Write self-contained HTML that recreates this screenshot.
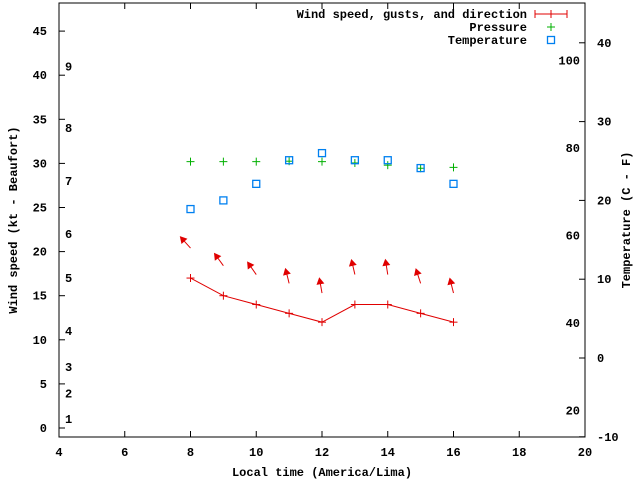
<!DOCTYPE html>
<html><head><meta charset="utf-8"><style>
body{margin:0;background:#fff}
svg{display:block;font-family:"Liberation Mono",monospace;font-size:12px;font-weight:bold}
</style></head><body>
<svg id="c" width="640" height="480"></svg>
<script>
const hours=[8,9,10,11,12,13,14,15,16];
const windSpeed=[17,15,14,13,12,14,14,13,12];
const arrowBase=[20.4,18.4,17.4,16.4,15.3,17.4,17.4,16.4,15.3];
const windDir=[-42,-36,-35,-14,-10,-13,-9,-18,-14];
const pressure=[30.2,30.2,30.2,30.25,30.2,30.05,29.8,29.45,29.55];
const tempC=[18.9,20,22.1,25.1,26,25.1,25.1,24.1,22.1];
const xTicks=[4,6,8,10,12,14,16,18,20];
const yTicks=[0,5,10,15,20,25,30,35,40,45];
const y2Ticks=[-10,0,10,20,30,40];
const fLabels=[20,40,60,80,100];
const bft=[[1,1],[2,3.9],[3,6.9],[4,11],[5,17],[6,22],[7,28],[8,34],[9,41]];
const L=59,R=585,T=3,B=437;
const X=v=>L+(v-4)*(R-L)/16;
const Y=v=>428-v*8.82;
const Y2=v=>358-v*7.88;
const YF=f=>Y2((f-32)*5/9);
const s=document.getElementById('c');const NS='http://www.w3.org/2000/svg';
function mk(t,a,p){const e=document.createElementNS(NS,t);for(const k in a)e.setAttribute(k,a[k]);(p||s).appendChild(e);return e;}
function tx(x,y,str,anchor){const e=mk('text',{x:x,y:y,'text-anchor':anchor||'start'});e.textContent=str;return e;}
const fr=mk('rect',{x:L,y:T,width:R-L,height:B-T,fill:'none',stroke:'#000'});

xTicks.forEach(v=>{mk('line',{x1:X(v),x2:X(v),y1:B,y2:B-6,stroke:'#000'});mk('line',{x1:X(v),x2:X(v),y1:T,y2:T+6,stroke:'#000'});
 const t=tx(X(v),B+19,v,'middle');});
yTicks.forEach(v=>{mk('line',{x1:L,x2:L+6,y1:Y(v),y2:Y(v),stroke:'#000'});
 const t=tx(L-12,Y(v)+4,v,'end');});
y2Ticks.forEach(v=>{mk('line',{x1:R,x2:R-6,y1:Y2(v),y2:Y2(v),stroke:'#000'});
 const t=tx(R+12,Y2(v)+4,v,'start');});
fLabels.forEach(v=>{const t=tx(580,YF(v)+4,v,'end');});
bft.forEach(b=>{const t=tx(65,Y(b[1])+4,b[0]);});
let t=tx(322,476,'Local time (America/Lima)','middle');
t=tx(0,0,'Wind speed (kt - Beaufort)','middle');t.setAttribute('transform','translate(17,220) rotate(-90)');

t=tx(0,0,'Temperature (C - F)','middle');t.setAttribute('transform','translate(630,220) rotate(-90)');

// wind line
const ln=mk('polyline',{points:hours.map((h,i)=>X(h)+','+Y(windSpeed[i])).join(' '),fill:'none',stroke:'#e00000'});

function plus(x,y,c,n){const g=mk('g',{stroke:c});mk('line',{x1:x-4,x2:x+4,y1:y,y2:y},g);mk('line',{x1:x,x2:x,y1:y-4,y2:y+4},g);
 }
hours.forEach((h,i)=>{plus(X(h),Y(windSpeed[i]),'#e00000','wind-point');
 const x0=X(h),y0=Y(arrowBase[i]),a=windDir[i]*Math.PI/180,len=14;
 const x1=x0+len*Math.sin(a),y1=y0-len*Math.cos(a);
 const g=mk('g',{});
 
 
 mk('line',{x1:x0,y1:y0,x2:x1,y2:y1,stroke:'#e00000'},g);
 const ux=Math.sin(a),uy=-Math.cos(a),px=-uy,py=ux;
 mk('polygon',{points:`${x1+ux*2},${y1+uy*2} ${x1-ux*5+px*4},${y1-uy*5+py*4} ${x1-ux*5-px*4},${y1-uy*5-py*4}`,fill:'#e00000'},g);
 plus(X(h),Y(pressure[i]),'#00b000','pressure-point');
 const r=mk('rect',{x:X(h)-3.5,y:Y2(tempC[i])-3.5,width:7,height:7,fill:'none',stroke:'#0080f0','stroke-width':1.3});
 });
// legend
t=tx(527,18,'Wind speed, gusts, and direction','end');
mk('line',{x1:535,x2:567,y1:14,y2:14,stroke:'#e00000'});mk('line',{x1:535,x2:535,y1:10,y2:18,stroke:'#e00000'});
mk('line',{x1:567,x2:567,y1:10,y2:18,stroke:'#e00000'});mk('line',{x1:551,x2:551,y1:10,y2:18,stroke:'#e00000'});
t=tx(527,31,'Pressure','end');
plus(551,27,'#00b000','legend-pressure-symbol');
t=tx(527,44,'Temperature','end');
mk('rect',{x:547.5,y:36.5,width:7,height:7,fill:'none',stroke:'#0080f0','stroke-width':1.3});
</script>
</body></html>
